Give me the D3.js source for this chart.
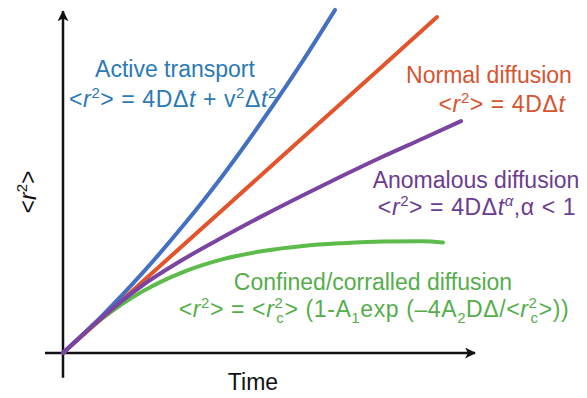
<!DOCTYPE html>
<html>
<head>
<meta charset="utf-8">
<script src="https://cdn.jsdelivr.net/npm/d3@7"></script>
<style>
  body { margin: 0; background: #fff; }
  svg { display: block; }
</style>
</head>
<body>
<div id="chart"></div>
<script>
// time points and <r^2> values (arbitrary units)
let activeT = [0, 1, 2, 3, 4, 5, 6, 6.8];
let activeR = [0, 1.12, 2.37, 3.74, 5.23, 6.86, 8.60, 10.09];

let normalT = [0, 2, 4, 6, 8, 9.35];
let normalR = [0, 2.11, 4.22, 6.34, 8.45, 9.88];

let anomT = [0, 1, 2, 3, 4, 5, 6, 7, 8, 9, 9.95];
let anomR = [0, 1.07, 2.0, 2.75, 3.41, 4.04, 4.64, 5.22, 5.78, 6.31, 6.82];

let confT = [0, 1, 2, 3, 4, 5, 6, 7, 8, 9, 9.5];
let confR = [0, 1.03, 1.82, 2.38, 2.76, 3.0, 3.15, 3.23, 3.28, 3.29, 3.25];

let width = 587, height = 398;

let x = d3.scaleLinear().domain([0, 10]).range([63, 463]);
let y = d3.scaleLinear().domain([0, 10]).range([353, 13]);

let svg = d3.select("#chart")
    .append("svg")
    .attr("width", width)
    .attr("height", height)
    .style("font-family", "'Liberation Sans', Arial, sans-serif");

svg.append("defs").append("marker")
    .attr("id", "arrow")
    .attr("viewBox", "0 0 10 10")
    .attr("refX", 9)
    .attr("refY", 5)
    .attr("markerWidth", 4.4)
    .attr("markerHeight", 4.4)
    .attr("markerUnits", "strokeWidth")
    .attr("orient", "auto")
    .append("path")
    .attr("d", "M0,0 L10,5 L0,10 L2.5,5 Z")
    .attr("fill", "#111");

// axes
svg.append("line")
    .attr("x1", x(0)).attr("y1", y(-0.73))
    .attr("x2", x(0)).attr("y2", y(10.05))
    .attr("stroke", "#111").attr("stroke-width", 2.5)
    .attr("marker-end", "url(#arrow)");

svg.append("line")
    .attr("x1", x(-0.45)).attr("y1", y(0))
    .attr("x2", x(10.3)).attr("y2", y(0))
    .attr("stroke", "#111").attr("stroke-width", 2.5)
    .attr("marker-end", "url(#arrow)");

let line = d3.line()
    .x(function(d) { return x(d[0]); })
    .y(function(d) { return y(d[1]); })
    .curve(d3.curveMonotoneX);

let series = [
    {t: confT, r: confR, color: "#5dbb4c"},
    {t: normalT, r: normalR, color: "#e2542c"},
    {t: activeT, r: activeR, color: "#4470c2"},
    {t: anomT, r: anomR, color: "#7a44a3"}
];

series.forEach(function(s) {
    svg.append("path")
        .datum(d3.zip(s.t, s.r))
        .attr("d", line)
        .attr("fill", "none")
        .attr("stroke", s.color)
        .attr("stroke-width", 4)
        .attr("stroke-linecap", "round");
});

// text with italics / superscripts / subscripts
function richText(parts, cx, cy, color, spacing) {
    let t = svg.append("text")
        .attr("x", cx).attr("y", cy)
        .attr("text-anchor", "middle")
        .attr("font-size", 23)
        .attr("letter-spacing", spacing || 0)
        .attr("fill", color);
    let cur = 0; // current baseline offset
    parts.forEach(function(p) {
        let s = typeof p === "string" ? {s: p} : p;
        let off = s.sup ? -9 : (s.sub ? 6 : 0);
        let sp = t.append("tspan").text(s.s);
        if (off !== cur) sp.attr("dy", off - cur);
        cur = off;
        if (s.i) sp.attr("font-style", "italic");
        if (s.sup || s.sub) sp.attr("font-size", 15);
        if (s.dx) sp.attr("dx", s.dx);
    });
    return t;
}

richText(["Active transport"], 175, 77, "#2b7ab5");
richText(["<", {s: "r", i: true}, {s: "2", sup: true}, "> = 4DΔ", {s: "t", i: true},
    " + v", {s: "2", sup: true}, "Δ", {s: "t", i: true}, {s: "2", sup: true}], 173, 107, "#2b7ab5", 0.6);

richText(["Normal diffusion"], 489, 83, "#d6552f");
richText(["<", {s: "r", i: true}, {s: "2", sup: true}, "> = 4DΔ", {s: "t", i: true}], 502, 112, "#d6552f", 0.6);

richText(["Anomalous diffusion"], 476, 188, "#6b3d91");
richText(["<", {s: "r", i: true}, {s: "2", sup: true}, "> = 4DΔ", {s: "t", i: true},
    {s: "α", sup: true, i: true}, ",α < 1"], 477, 215, "#6b3d91", 0.6);

richText(["Confined/corralled diffusion"], 373, 290, "#55ae4b");
richText(["<", {s: "r", i: true}, {s: "2", sup: true}, "> = <", {s: "r", i: true}, {s: "2", sup: true},
    {s: "c", sub: true, dx: -7}, "> (1-A", {s: "1", sub: true}, "exp (–4A", {s: "2", sub: true},
    "DΔ/<", {s: "r", i: true}, {s: "2", sup: true}, {s: "c", sub: true, dx: -7}, ">))"], 374, 317, "#55ae4b", 0.6);

// axis titles
svg.append("text")
    .attr("x", 253).attr("y", 390)
    .attr("text-anchor", "middle")
    .attr("font-size", 23)
    .attr("fill", "#111")
    .text("Time");

let yl = svg.append("text")
    .attr("transform", "translate(36,192) rotate(-90)")
    .attr("text-anchor", "middle")
    .attr("font-size", 23)
    .attr("fill", "#111");
yl.append("tspan").text("<");
yl.append("tspan").attr("font-style", "italic").text("r");
yl.append("tspan").attr("font-size", 15).attr("dy", -9).text("2");
yl.append("tspan").attr("dy", 9).text(">");
</script>
</body>
</html>
